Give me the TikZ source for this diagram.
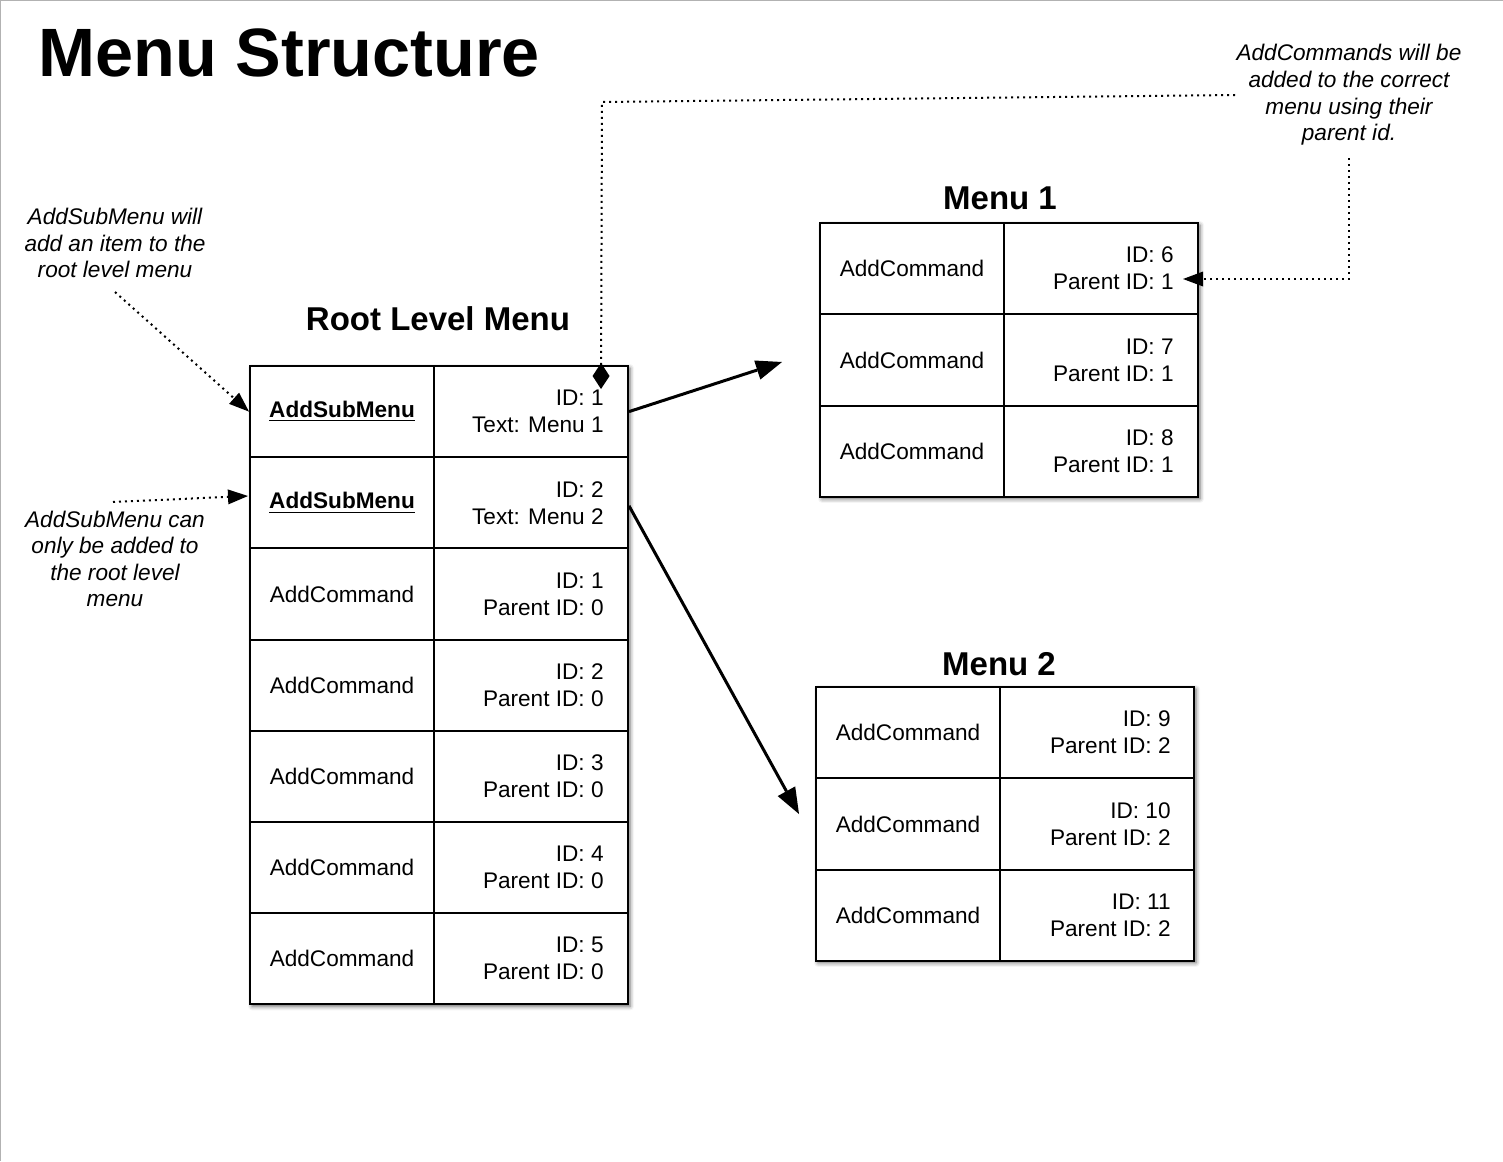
\documentclass[tikz,border=0pt]{standalone}
\usepackage{fontspec}
\setmainfont{Liberation Sans}
\usetikzlibrary{arrows.meta,shadows.blur}
\begin{document}
\begin{tikzpicture}[x=0.5pt,y=-0.5pt,
  txt/.style={font=\fontsize{11.3}{13.5}\selectfont, inner sep=0pt},
  rtxt/.style={txt, align=right, anchor=east},
  note/.style={font=\fontsize{11.3}{13.3}\selectfont\itshape, align=center, inner sep=0pt},
  hdr/.style={font=\fontsize{16.5}{18}\selectfont\bfseries, inner sep=0pt, anchor=base},
  lcell/.style={draw, line width=1pt, minimum width=92pt, minimum height=45.6pt, inner sep=0pt, anchor=north west, txt},
  rcell/.style={draw, line width=1pt, minimum width=97pt, minimum height=45.6pt, inner sep=0pt, anchor=north west},
  mrow/.style={minimum height=45.65pt},
  tbl/.style={fill=white, blur shadow={shadow xshift=1.5pt, shadow yshift=-1.5pt, shadow opacity=60, shadow blur radius=2pt}},
  bigarrow/.style={line width=1.5pt, -{Triangle[length=13pt,width=10pt,fill=black,line width=0pt]}},
  dotline/.style={line width=1pt, dash pattern=on 1pt off 2pt},
  dotarrow/.style={dotline, -{Triangle[length=10pt,width=7.5pt,fill=black,line width=0pt]}},
  ]
\useasboundingbox (0,0) rectangle (1503,1161);
\draw[black!30, line width=0.5pt] (0.5,1161) -- (0.5,0.5) -- (1503,0.5);

% title
\node[font=\fontsize{34.2}{40}\selectfont\bfseries, inner sep=0pt, anchor=base west] (title) at (38,76) {Menu Structure};

% headers
\node[hdr] (roothdr) at (438,330) {Root Level Menu};
\node[hdr] (m1hdr) at (1000,209) {Menu 1};
\node[hdr] (m2hdr) at (999,675) {Menu 2};

% root table
\path[tbl] (249,365) rectangle (627,1003.4);
\foreach \lt/\rt [count=\i from 0] in {
  {\underline{\textbf{AddSubMenu}}}/{ID: 1\\Text: Menu 1},
  {\underline{\textbf{AddSubMenu}}}/{ID: 2\\Text: Menu 2},
  {AddCommand}/{ID: 1\\Parent ID: 0},
  {AddCommand}/{ID: 2\\Parent ID: 0},
  {AddCommand}/{ID: 3\\Parent ID: 0},
  {AddCommand}/{ID: 4\\Parent ID: 0},
  {AddCommand}/{ID: 5\\Parent ID: 0}}
{
  \node[lcell] (rootL\i) at (249,{365+91.2*\i}) {\lt};
  \node[rcell] (rootR\i) at (433,{365+91.2*\i}) {};
  \node[rtxt] (rootT\i) at ([xshift=-12.5pt]rootR\i.east) {\rt};
}

% menu 1
\path[tbl] (819,222) rectangle (1197,495.9);
\foreach \rt [count=\i from 0] in {{ID: 6\\Parent ID: 1},{ID: 7\\Parent ID: 1},{ID: 8\\Parent ID: 1}}
{
  \node[lcell, mrow] (mOneL\i) at (819,{222+91.3*\i}) {AddCommand};
  \node[rcell, mrow] (mOneR\i) at (1003,{222+91.3*\i}) {};
  \node[rtxt] (mOneT\i) at ([xshift=-12.5pt]mOneR\i.east) {\rt};
}

% menu 2
\path[tbl] (815,686) rectangle (1193,959.9);
\foreach \rt [count=\i from 0] in {{ID: 9\\Parent ID: 2},{ID: 10\\Parent ID: 2},{ID: 11\\Parent ID: 2}}
{
  \node[lcell, mrow] (mTwoL\i) at (815,{686+91.3*\i}) {AddCommand};
  \node[rcell, mrow] (mTwoR\i) at (999,{686+91.3*\i}) {};
  \node[rtxt] (mTwoT\i) at ([xshift=-12pt]mTwoR\i.east) {\rt};
}

% notes
\node[note] (noteA) at (115,243) {AddSubMenu will\\add an item to the\\root level menu};
\node[note] (noteB) at (115,559) {AddSubMenu can\\only be added to\\the root level\\menu};
\node[note] (noteC) at (1349,95) {AddCommands will be\\added to the correct\\menu using their\\parent id.};

% solid arrows
\coordinate (endA) at (782,362);
\coordinate (endB) at (799,814);
\draw[bigarrow] (rootR0.east) -- (endA);
\draw[bigarrow] ([yshift=-1.5pt]rootR1.east) -- (endB);

% dotted connectors
\coordinate (startA) at (115,292);
\coordinate (startB) at (113,502);
\coordinate (tipB) at (248,496);
\coordinate (startC) at (1235,95);
\coordinate (bendC) at (602,102);
\coordinate (tipC) at (601,389);
\coordinate (startD) at (1349,158);
\coordinate (bendD) at (1349,279);
\coordinate (tipD) at (1183,279);
\draw[dotarrow] (startA) -- (rootL0.west);
\draw[dotarrow] (startB) -- (tipB);
\draw[dotline, -{Diamond[length=13pt,width=8.5pt,fill=black,line width=0pt]}] (startC) -- (bendC) -- (tipC);
\draw[dotarrow] (startD) -- (bendD) -- (tipD);
\end{tikzpicture}
\end{document}
